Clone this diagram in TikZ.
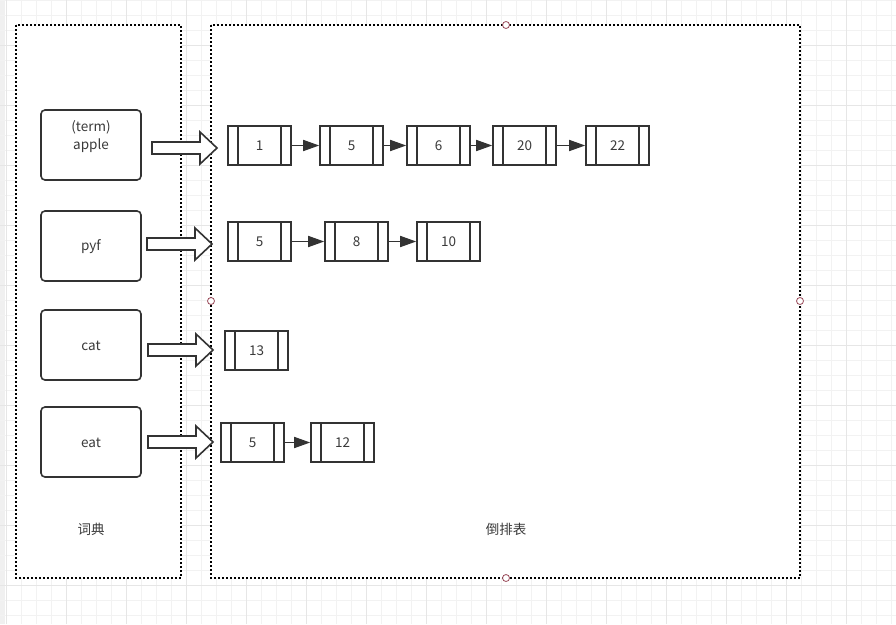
\documentclass[tikz,border=0pt]{standalone}
\usepackage{fontspec}
\setmainfont{Noto Sans CJK SC}
\usetikzlibrary{arrows.meta,calc}
\definecolor{ink}{HTML}{333333}
\definecolor{txt}{HTML}{3A3A3A}
\definecolor{gridminor}{HTML}{F2F2F2}
\definecolor{gridmajor}{HTML}{E6E6E6}
\definecolor{handle}{HTML}{9A4A5A}
\tikzset{
  container/.style={draw=black, fill=white, line width=1.6pt, dash pattern=on 1.8pt off 2.2pt},
  termbox/.style={draw=ink, line width=1.6pt, rounded corners=4pt, minimum width=100pt, minimum height=70pt, fill=white},
  cell/.style={draw=ink, line width=1.6pt, fill=white, minimum width=63pt, minimum height=39pt, inner sep=0pt,
    path picture={
      \draw[ink, line width=1.3pt] ([xshift=10pt]path picture bounding box.north west) -- ([xshift=10pt]path picture bounding box.south west);
      \draw[ink, line width=1.3pt] ([xshift=-10pt]path picture bounding box.north east) -- ([xshift=-10pt]path picture bounding box.south east);
    }},
  link/.style={draw=ink, line width=1.6pt, -{Triangle[length=16pt,width=11pt]}},
  label/.style={text=txt, font=\fontsize{13.5}{18}\selectfont, inner sep=0pt},
  handlecirc/.style={draw=handle, fill=white, line width=0.8pt, circle, minimum size=7pt, inner sep=0pt},
  barrow/.pic={
    \draw[ink, line width=1.6pt, fill=white, line join=miter]
      (0,-6) -- (48,-6) -- (48,-16) -- (65,0) -- (48,16) -- (48,6) -- (0,6) -- cycle;
  }
}
\begin{document}
\begin{tikzpicture}[x=1pt,y=-1pt]
\useasboundingbox (0,0) rectangle (896,624);
\fill[white] (0,0) rectangle (896,624);
\fill[gridmajor!60] (0,0) rectangle (5,624);
% grid
\foreach \x in {6,21,...,896} \draw[gridminor, line width=0.8pt] (\x,0) -- (\x,624);
\foreach \y in {0,15,...,624} \draw[gridminor, line width=0.8pt] (0,\y) -- (896,\y);
\foreach \x in {6,66,...,896} \draw[gridmajor, line width=0.8pt] (\x,0) -- (\x,624);
\foreach \y in {45,105,...,624} \draw[gridmajor, line width=0.8pt] (0,\y) -- (896,\y);
% containers
\draw[container] (16,25) rectangle (181,578);
\draw[container] (211,25) rectangle (800,578);
\node[handlecirc] (h1) at (506,25) {};
\node[handlecirc] (h2) at (211,301) {};
\node[handlecirc] (h3) at (800,301) {};
\node[handlecirc] (h4) at (506,578) {};
% titles
\node[label] (dict) at (91,529.5) {词典};
\node[label] (inv) at (506,529.5) {倒排表};
% term boxes
\node[termbox] (tApple) at (91,145) {};
\node[label] (tApple1) at (91,127.5) {(term)};
\node[label] (tApple2) at (91,146) {apple};
\node[termbox] (tPyf) at (91,246) {};
\node[label] (tPyf1) at (91,246.5) {pyf};
\node[termbox] (tCat) at (91,345) {};
\node[label] (tCat1) at (91,345.5) {cat};
\node[termbox] (tEat) at (91,442) {};
\node[label] (tEat1) at (91,442.5) {eat};
% block arrows
\pic at (152,148) {barrow};
\pic at (147,244) {barrow};
\pic at (148,350) {barrow};
\pic at (148,442) {barrow};
% row 1
\node[cell] (a1) at (259.5,145.5) {}; \node[label] at (a1) {1};
\node[cell] (a2) at (351.5,145.5) {}; \node[label] at (a2) {5};
\node[cell] (a3) at (438.5,145.5) {}; \node[label] at (a3) {6};
\node[cell] (a4) at (524.5,145.5) {}; \node[label] at (a4) {20};
\node[cell] (a5) at (617.5,145.5) {}; \node[label] at (a5) {22};
\draw[link] (a1) -- (a2);
\draw[link] (a2) -- (a3);
\draw[link] (a3) -- (a4);
\draw[link] (a4) -- (a5);
% row 2
\node[cell] (b1) at (259.5,241.5) {}; \node[label] at (b1) {5};
\node[cell] (b2) at (356.5,241.5) {}; \node[label] at (b2) {8};
\node[cell] (b3) at (448.5,241.5) {}; \node[label] at (b3) {10};
\draw[link] (b1) -- (b2);
\draw[link] (b2) -- (b3);
% row 3
\node[cell] (c1) at (256.5,350.5) {}; \node[label] at (c1) {13};
% row 4
\node[cell] (d1) at (252.5,442.5) {}; \node[label] at (d1) {5};
\node[cell] (d2) at (342.5,442.5) {}; \node[label] at (d2) {12};
\draw[link] (d1) -- (d2);
\end{tikzpicture}
\end{document}
